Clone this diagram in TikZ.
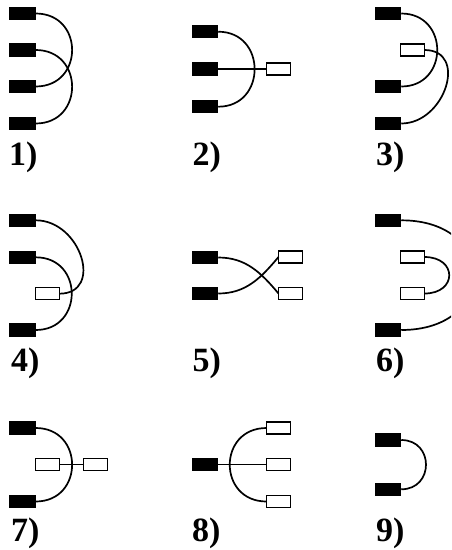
\documentclass[tikz,border=0pt]{standalone}
\usepackage{fontspec}
\setmainfont{Liberation Serif}
\begin{document}
\begin{tikzpicture}[x=1pt,y=-1pt,
 blk/.style={fill=black,minimum width=26.5pt,minimum height=13.3pt,inner sep=0pt,outer sep=0pt},
 wht/.style={draw=black,fill=white,line width=1.2pt,minimum width=24pt,minimum height=12pt,inner sep=0pt,outer sep=0pt},
 wire/.style={line width=1.7pt},
 straight/.style={line width=1.2pt},
 lbl/.style={anchor=base west,inner sep=0pt,font=\fontsize{34}{40}\selectfont\bfseries}]
\useasboundingbox (0,0) rectangle (451,550);
\clip (0,0) rectangle (451,550);
% ---- panel 1
\node[blk] (p1a) at (22.5,13.5) {};
\node[blk] (p1b) at (22.5,50) {};
\node[blk] (p1c) at (22.5,86.5) {};
\node[blk] (p1d) at (22.5,123.5) {};
\draw[wire] (p1a.east) to[out=0,in=0,distance=48.5pt] (p1c.east);
\draw[wire] (p1b.east) to[out=0,in=0,distance=48.5pt] (p1d.east);
\node[lbl] (l1) at (9,165) {1)};
% ---- panel 2
\node[blk] (p2a) at (205,31.7) {};
\node[blk] (p2b) at (205,69) {};
\node[blk] (p2c) at (205,106.7) {};
\node[wht] (p2w) at (278.5,69) {};
\draw[wire] (p2a.east) to[out=0,in=0,distance=48.5pt] (p2c.east);
\draw[straight] (p2b.east) -- (p2w.west);
\node[lbl] (l2) at (192.5,165) {2)};
% ---- panel 3
\node[blk] (p3a) at (388,13.5) {};
\node[wht] (p3w) at (412.5,50) {};
\node[blk] (p3b) at (388,86.5) {};
\node[blk] (p3c) at (388,123.5) {};
\draw[wire] (p3a.east) to[out=0,in=0,distance=48pt] (p3b.east);
\draw[wire] (p3w.east) to[out=0,in=0,distance=44pt] (p3c.east);
\node[lbl] (l3) at (376,165) {3)};
% ---- panel 4
\node[blk] (p4a) at (22.5,220.3) {};
\node[blk] (p4b) at (22.5,257.3) {};
\node[wht] (p4w) at (47.2,293.7) {};
\node[blk] (p4c) at (22.5,330) {};
\draw[wire] (p4a.east) to[out=0,in=0,distance=45pt] (p4w.east);
\draw[wire] (p4b.east) to[out=0,in=0,distance=48pt] (p4c.east);
\node[lbl] (l4) at (11,371.7) {4)};
% ---- panel 5
\node[blk] (p5a) at (205,257.5) {};
\node[blk] (p5b) at (205,293.5) {};
\node[wht] (p5w) at (290.5,257) {};
\node[wht] (p5x) at (290.5,293.5) {};
\draw[wire] (p5a.east) to[out=0,in=130] (p5x.west);
\draw[wire] (p5b.east) to[out=0,in=-130] (p5w.west);
\node[lbl] (l5) at (192.5,371.7) {5)};
% ---- panel 6
\node[blk] (p6a) at (388,220.3) {};
\node[wht] (p6w) at (412.5,257) {};
\node[wht] (p6x) at (412.5,293.5) {};
\node[blk] (p6b) at (388,330) {};
\draw[wire] (p6a.east) to[out=0,in=0,distance=97pt] (p6b.east);
\draw[wire] (p6w.east) to[out=0,in=0,distance=33pt] (p6x.east);
\node[lbl] (l6) at (376,371.7) {6)};
% ---- panel 7
\node[blk] (p7a) at (22.5,428) {};
\node[wht] (p7w) at (47.2,464.5) {};
\node[wht] (p7x) at (95.5,464.5) {};
\node[blk] (p7b) at (22.5,501.5) {};
\draw[wire] (p7a.east) to[out=0,in=0,distance=48.5pt] (p7b.east);
\draw[straight] (p7w.east) -- (p7x.west);
\node[lbl] (l7) at (11,541.7) {7)};
% ---- panel 8
\node[blk] (p8a) at (205,464.5) {};
\node[wht] (p8w) at (278.5,428) {};
\node[wht] (p8x) at (278.5,464.5) {};
\node[wht] (p8y) at (278.5,501.5) {};
\draw[wire] (p8w.west) to[out=180,in=180,distance=49pt] (p8y.west);
\draw[straight] (p8a.east) -- (p8x.west);
\node[lbl] (l8) at (192,541.7) {8)};
% ---- panel 9
\node[blk] (p9a) at (388,440) {};
\node[blk] (p9b) at (388,489.3) {};
\draw[wire] (p9a.east) to[out=0,in=0,distance=33pt] (p9b.east);
\node[lbl] (l9) at (376,541.7) {9)};
\end{tikzpicture}
\end{document}
